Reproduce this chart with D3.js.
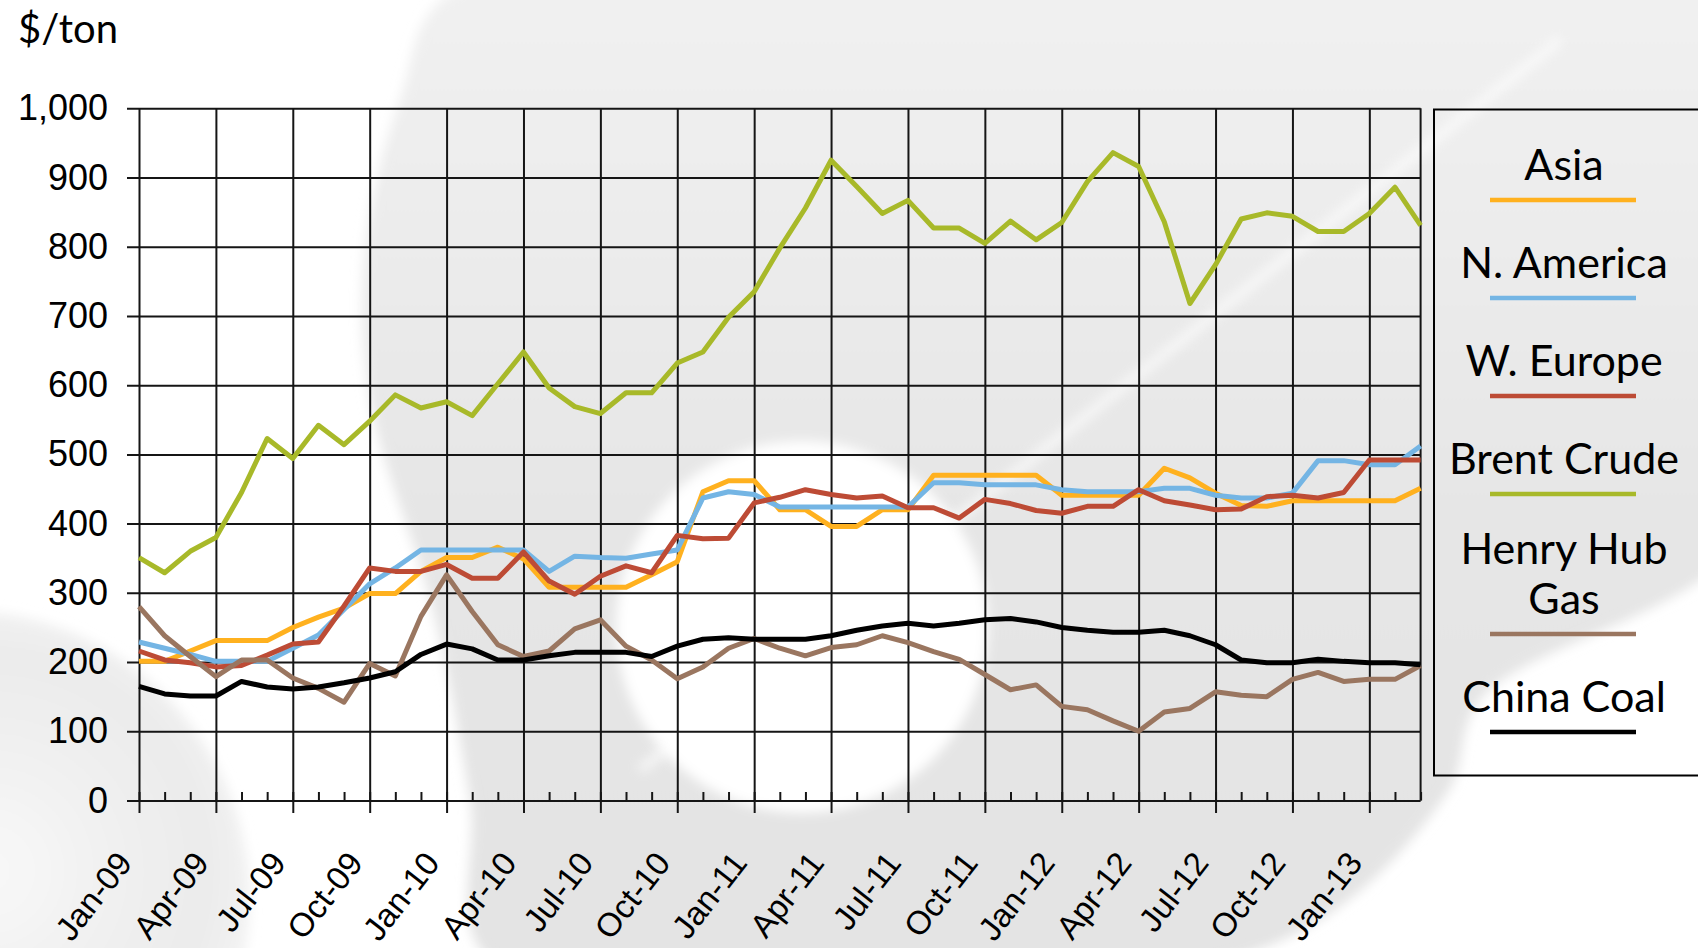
<!DOCTYPE html>
<html>
<head>
<meta charset="utf-8">
<script src="https://cdn.jsdelivr.net/npm/d3@7"></script>
<style>
  body { margin: 0; background: #fff; }
  svg { display: block; font-family: Lato, 'Noto Sans', sans-serif; }
</style>
</head>
<body>
<div id="chart"></div>
<script>

// categories (monthly, Jan-09 .. Mar-13)
const months = [
  'Jan-09','Feb-09','Mar-09','Apr-09','May-09','Jun-09','Jul-09','Aug-09','Sep-09','Oct-09','Nov-09','Dec-09',
  'Jan-10','Feb-10','Mar-10','Apr-10','May-10','Jun-10','Jul-10','Aug-10','Sep-10','Oct-10','Nov-10','Dec-10',
  'Jan-11','Feb-11','Mar-11','Apr-11','May-11','Jun-11','Jul-11','Aug-11','Sep-11','Oct-11','Nov-11','Dec-11',
  'Jan-12','Feb-12','Mar-12','Apr-12','May-12','Jun-12','Jul-12','Aug-12','Sep-12','Oct-12','Nov-12','Dec-12',
  'Jan-13','Feb-13','Mar-13'
];
const quarterLabels = ['Jan-09','Apr-09','Jul-09','Oct-09','Jan-10','Apr-10','Jul-10','Oct-10','Jan-11',
  'Apr-11','Jul-11','Oct-11','Jan-12','Apr-12','Jul-12','Oct-12','Jan-13'];
const yTicks = [0, 100, 200, 300, 400, 500, 600, 700, 800, 900, 1000];

// series values, $/ton
const asia = [201,201,216,231,231,231,250,265,278,299,299,331,351,351,366,349,308,308,308,308,326,345,446,462,
  462,420,420,396,396,420,420,470,470,470,470,470,441,441,441,441,480,466,444,426,425,433,433,433,433,433,451];
const nAmerica = [229,220,211,201,201,201,220,239,276,313,336,362,362,362,362,362,331,353,351,350,356,362,437,446,
  442,424,424,424,424,424,424,459,459,456,456,456,449,446,446,446,451,451,441,437,437,444,491,491,485,485,512];
const wEurope = [216,203,199,193,195,210,226,229,281,336,331,331,341,321,321,359,317,298,324,339,329,383,378,379,
  430,438,449,442,437,440,423,423,408,435,429,419,415,425,425,449,433,427,420,421,439,441,437,445,492,492,492];
const brent = [351,329,360,380,445,523,494,542,514,548,586,567,576,556,602,648,596,569,559,589,589,632,648,698,
  735,798,856,925,887,848,867,827,827,805,837,810,835,894,936,916,836,718,774,840,849,844,822,822,848,886,831];
const henryHub = [280,238,208,179,203,203,177,162,142,198,180,266,326,273,225,208,216,248,261,223,203,176,193,220,
  234,220,209,221,225,238,228,215,204,182,160,167,136,131,115,100,128,133,157,152,150,175,185,172,175,175,195];
const chinaCoal = [165,154,151,151,172,164,161,164,170,177,186,211,226,219,203,203,209,214,214,214,208,223,233,235,
  233,233,233,238,246,252,256,252,256,261,263,258,250,246,243,243,246,238,225,203,199,199,204,201,199,199,196];

const seriesNames = ['Asia', 'N. America', 'W. Europe', 'Brent Crude', 'Henry Hub Gas', 'China Coal'];
const legendLabels = [['Asia'], ['N. America'], ['W. Europe'], ['Brent Crude'], ['Henry Hub', 'Gas'], ['China Coal']];
const seriesValues = [asia, nAmerica, wEurope, brent, henryHub, chinaCoal];
const colors = ['#ffb11f', '#74b5e4', '#bd4b35', '#a8b929', '#9a7660', '#000000'];

const W = 1698, H = 948;
const plot = { left: 139, right: 1420.6, top: 108.3, bottom: 800.5 };

const svg = d3.select('#chart').append('svg')
  .attr('width', W)
  .attr('height', H);

// faded logo watermark behind the chart
const drawBackground = (svg) => {
  const defs = svg.append('defs');

  const lg = defs.append('linearGradient').attr('id', 'sphere')
    .attr('x1', 0).attr('y1', 0).attr('x2', 0).attr('y2', 1);
  lg.append('stop').attr('offset', 0).attr('stop-color', '#f3f3f3');
  lg.append('stop').attr('offset', 0.55).attr('stop-color', '#e6e6e6');
  lg.append('stop').attr('offset', 1).attr('stop-color', '#e3e3e3');

  const rg = defs.append('radialGradient').attr('id', 'leftball')
    .attr('cx', 0.55).attr('cy', 0.45).attr('r', 0.5);
  rg.append('stop').attr('offset', 0).attr('stop-color', '#f8f8f8');
  rg.append('stop').attr('offset', 0.75).attr('stop-color', '#ebebeb');
  rg.append('stop').attr('offset', 1).attr('stop-color', '#f7f7f7');

  defs.append('filter').attr('id', 'soft')
    .append('feGaussianBlur').attr('stdDeviation', 6);

  const outline = [[455, -10], [1760, -10], [1760, 520], [1480, 700], [1447, 793], [1263, 948],
    [490, 960], [470, 800], [433, 610], [370, 400], [365, 250], [400, 100]];

  svg.append('path')
    .attr('d', d3.line().curve(d3.curveCatmullRomClosed)(outline))
    .attr('fill', 'url(#sphere)')
    .attr('filter', 'url(#soft)');

  svg.append('circle')
    .attr('cx', -40).attr('cy', 900).attr('r', 290)
    .attr('fill', 'url(#leftball)')
    .attr('filter', 'url(#soft)');

  svg.append('circle')
    .attr('cx', 802).attr('cy', 627).attr('r', 186)
    .attr('fill', '#ffffff')
    .attr('filter', 'url(#soft)');

  svg.append('line')
    .attr('x1', 640).attr('y1', 770).attr('x2', 1560).attr('y2', 40)
    .attr('stroke', '#ffffff')
    .attr('stroke-width', 9)
    .attr('opacity', 0.7)
    .attr('filter', 'url(#soft)');
};

drawBackground(svg);

const x = d3.scalePoint()
  .domain(months)
  .range([plot.left, plot.right]);

const y = d3.scaleLinear()
  .domain([0, 1000])
  .range([plot.bottom, plot.top]);

const g = svg.append('g');

// horizontal gridlines (they also run through the left tick marks)
g.append('g')
  .attr('class', 'grid-y')
  .attr('transform', 'translate(' + plot.right + ',0)')
  .call(d3.axisLeft(y).tickValues(yTicks).tickSize(plot.right - 127).tickFormat(''))
  .call(s => s.select('.domain').remove())
  .selectAll('line')
  .attr('stroke', '#151515')
  .attr('stroke-width', 2);

// vertical gridlines at each quarter
g.append('g')
  .attr('class', 'grid-x')
  .attr('transform', 'translate(0,' + plot.bottom + ')')
  .call(d3.axisBottom(x).tickValues(quarterLabels).tickSize(-(plot.bottom - plot.top)).tickFormat(''))
  .call(s => s.select('.domain').remove())
  .selectAll('line')
  .attr('stroke', '#151515')
  .attr('stroke-width', 2);

// right border of the plot area
g.append('line')
  .attr('x1', x(months[months.length - 1])).attr('x2', x(months[months.length - 1]))
  .attr('y1', y(1000)).attr('y2', y(0))
  .attr('stroke', '#151515')
  .attr('stroke-width', 2);

// monthly minor ticks pointing up
g.append('g')
  .attr('transform', 'translate(0,' + plot.bottom + ')')
  .call(d3.axisBottom(x).tickValues(months).tickSize(-8.5).tickFormat(''))
  .call(s => s.select('.domain').remove())
  .selectAll('line')
  .attr('stroke', '#151515')
  .attr('stroke-width', 2);

// y axis labels
g.append('g')
  .attr('class', 'axis axis--y')
  .attr('transform', 'translate(' + plot.left + ',0)')
  .call(d3.axisLeft(y).tickValues(yTicks).tickSize(0).tickPadding(31).tickFormat(d3.format(',')))
  .call(s => s.select('.domain').remove())
  .selectAll('text')
  .attr('fill', '#000')
  .style('font-size', '36px');

// x axis: major ticks down + rotated labels
g.append('g')
  .attr('class', 'axis axis--x')
  .attr('transform', 'translate(0,' + plot.bottom + ')')
  .call(d3.axisBottom(x).tickValues(quarterLabels).tickSize(12.5))
  .call(s => s.select('.domain').remove())
  .call(s => s.selectAll('line').attr('stroke', '#151515').attr('stroke-width', 2))
  .selectAll('text')
  .attr('fill', '#000')
  .attr('x', 0)
  .attr('y', 0)
  .attr('dy', 0)
  .attr('transform', 'translate(-6,63) rotate(-52)')
  .style('text-anchor', 'end')
  .style('font-size', '33px');

// axis unit
svg.append('text')
  .attr('x', 18)
  .attr('y', 43)
  .style('font-size', '40px')
  .attr('fill', '#000')
  .text('$/ton');

// series lines
const line = d3.line()
  .x((d, i) => x(months[i]))
  .y(d => y(d));

g.selectAll('.series')
  .data(seriesValues)
  .join('path')
  .attr('class', 'series')
  .attr('d', line)
  .attr('fill', 'none')
  .attr('stroke', (d, i) => colors[i])
  .attr('stroke-width', 5)
  .attr('stroke-linejoin', 'round');

// legend
const legend = svg.append('g').attr('class', 'legend');
legend.append('rect')
  .attr('x', 1434)
  .attr('y', 109.5)
  .attr('width', 300)
  .attr('height', 666)
  .attr('fill', 'none')
  .attr('stroke', '#000')
  .attr('stroke-width', 2);

let lineY = 200;
legendLabels.forEach((lines, i) => {
  lineY += (lines.length - 1) * 42;
  const item = legend.append('g');
  lines.forEach((t, k) => {
    item.append('text')
      .attr('x', 1564)
      .attr('y', lineY - 20 - (lines.length - 1 - k) * 50)
      .attr('text-anchor', 'middle')
      .style('font-size', '43px')
      .attr('fill', '#000')
      .text(t);
  });
  item.append('line')
    .attr('x1', 1490).attr('x2', 1636)
    .attr('y1', lineY).attr('y2', lineY)
    .attr('stroke', colors[i])
    .attr('stroke-width', 4.5);
  lineY += 98;
});

</script>
</body>
</html>
